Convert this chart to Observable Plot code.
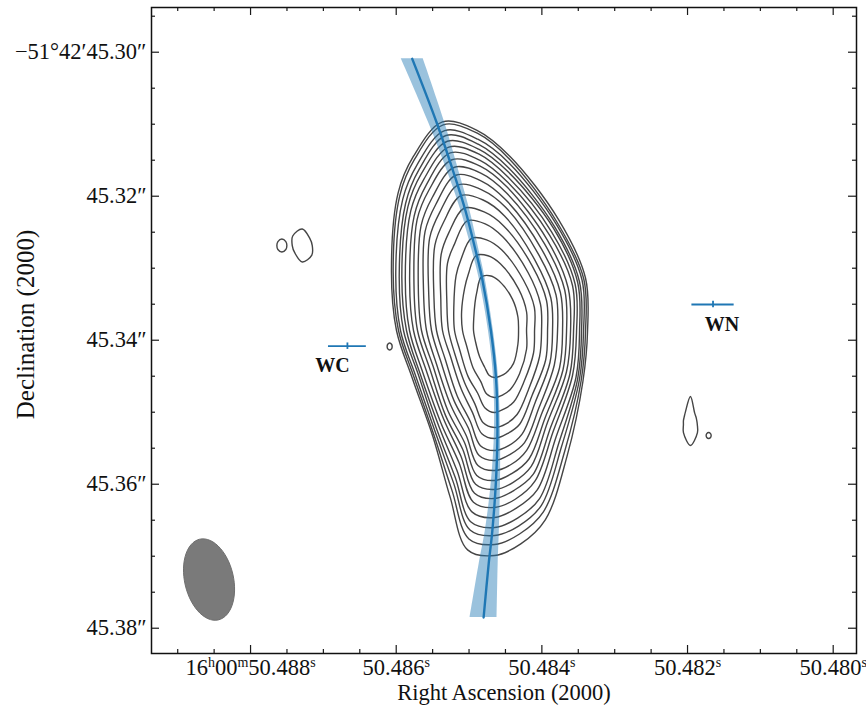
<!DOCTYPE html>
<html><head><meta charset="utf-8">
<script src="https://cdn.jsdelivr.net/npm/d3@7"></script>
<script src="https://cdn.jsdelivr.net/npm/@observablehq/plot@0.6"></script>
<style>
html,body{margin:0;padding:0;background:#fff;}
#chart{width:866px;height:706px;}
</style></head><body><div id="chart"></div>
<script>
// ---------------- data ----------------
// axis ticks (RA in seconds of time, Dec in arcsec)
const xMajorTicks = [50.488, 50.486, 50.484, 50.482, 50.480];
const xMajorLabels = ["16^h00^m50.488^s", "50.486^s", "50.484^s", "50.482^s", "50.480^s"];
const xMinorTicks = [50.4890, 50.4885, 50.4875, 50.4870, 50.4865, 50.4855, 50.4850, 50.4845, 50.4835, 50.4830, 50.4825, 50.4815, 50.4810, 50.4805];
const yMajorTicks = [45.30, 45.32, 45.34, 45.36, 45.38];
const yMajorLabels = ["\u221251\u00b042\u203245.30\u2033", "45.32\u2033", "45.34\u2033", "45.36\u2033", "45.38\u2033"];
const yMinorTicks = [45.295, 45.305, 45.310, 45.315, 45.325, 45.330, 45.335, 45.345, 45.350, 45.355, 45.365, 45.370, 45.375];
const xDomain = [50.48936, 50.47968];
const yDomain = [45.38351, 45.29379];

// map pixel size used for contour radii
const mapPixRA = 1.3736e-5;   // s of RA per map pixel
const mapPixDec = 1.3889e-4;  // arcsec per map pixel

// main source contours: centre, directions, radii (map pixels), innermost -> outermost
const sourceCenterRA = 50.48465;
const sourceCenterDec = 45.33865;
const contourAngles = [0, 30, 60, 75, 83, 90, 97, 105, 120, 150, 180, 210, 235, 245, 256, 265, 275, 300, 330];
const contourRadii = [
  [24, 27, 38, 44, 46, 47, 45, 38, 30, 22, 21, 24, 34, 42, 55, 55, 50, 36, 27],
  [32, 37, 50, 61, 65, 67, 64, 53, 43, 32, 32, 38, 52, 62, 77, 75, 67, 48, 37],
  [40, 45, 59, 74, 79, 82, 78, 65, 53, 40, 40, 47, 67, 79, 95, 91, 81, 58, 46],
  [47, 52, 68, 87, 94, 97, 93, 76, 60, 46, 46, 55, 82, 95, 113, 107, 94, 67, 53],
  [53, 59, 75, 97, 104, 108, 104, 85, 67, 51, 52, 62, 93, 108, 126, 119, 105, 75, 60],
  [58, 64, 82, 107, 116, 120, 116, 94, 75, 57, 58, 70, 104, 120, 139, 131, 115, 81, 65],
  [63, 69, 89, 116, 125, 130, 126, 101, 81, 62, 63, 76, 113, 130, 150, 141, 124, 88, 71],
  [68, 75, 95, 124, 135, 140, 136, 109, 87, 67, 68, 82, 121, 139, 160, 150, 131, 94, 76],
  [72, 79, 101, 133, 144, 150, 146, 116, 93, 71, 73, 88, 128, 147, 168, 158, 138, 100, 81],
  [76, 83, 106, 141, 153, 159, 155, 123, 98, 75, 77, 93, 135, 155, 176, 165, 144, 105, 85],
  [79, 87, 112, 149, 161, 168, 164, 130, 102, 79, 81, 98, 140, 161, 183, 171, 149, 110, 90],
  [82, 90, 117, 156, 170, 177, 173, 137, 107, 83, 85, 103, 146, 167, 189, 177, 154, 114, 93],
  [85, 94, 123, 165, 179, 187, 183, 145, 111, 86, 88, 107, 151, 173, 195, 182, 159, 118, 96],
  [87, 96, 129, 174, 189, 197, 193, 152, 115, 88, 91, 110, 155, 178, 201, 187, 163, 120, 98],
  [89, 98, 134, 181, 197, 205, 201, 158, 118, 91, 94, 114, 160, 183, 206, 192, 168, 123, 101],
  [91, 100, 140, 188, 205, 214, 210, 165, 121, 93, 96, 117, 165, 189, 212, 198, 172, 125, 103],
  [93, 102, 145, 196, 215, 225, 221, 172, 123, 95, 98, 119, 168, 192, 215, 201, 175, 128, 105]
];

// small isolated contours
const blobNames = ["A", "B", "C", "D", "E"];
const blobRA = [50.48757, 50.48729, 50.48609, 50.48196, 50.48171];
const blobDec = [45.32685, 45.32685, 45.34088, 45.35115, 45.35324];
const blobAngles = [
  [0, 45, 90, 135, 180, 225, 270, 315],
  [0, 45, 90, 135, 180, 225, 270, 315],
  [0, 45, 90, 135, 180, 225, 270, 315],
  [0, 30, 60, 90, 120, 150, 180, 210, 240, 270, 300, 330],
  [0, 45, 90, 135, 180, 225, 270, 315]
];
const blobRadii = [
  [5, 5.6, 6.5, 5.6, 5, 5.6, 6.5, 5.6],
  [10, 13.5, 16.5, 10.5, 10, 13.5, 16.5, 10.5],
  [2.5, 2.9, 3.5, 2.9, 2.5, 2.9, 3.5, 2.9],
  [6.3, 7.9, 14, 25, 14, 8.1, 7, 7.2, 10, 24, 8.5, 6.5],
  [2.5, 2.7, 3, 2.7, 2.5, 2.7, 3, 2.7]
];

// synthesized beam
const beamRA = 50.48857, beamDec = 45.37324;
const beamMajor = 41.4, beamMinor = 24.4, beamTilt = 13; // map pixels, degrees

// fitted curve and its uncertainty band
const curveRA = [50.48578, 50.48544, 50.48519, 50.48505, 50.48491, 50.48482, 50.48470, 50.48463, 50.48461, 50.48463, 50.48468, 50.48473, 50.48480];
const curveDec = [45.30092, 45.30990, 45.31740, 45.32199, 45.32754, 45.33143, 45.33865, 45.34518, 45.35254, 45.35949, 45.36643, 45.37101, 45.37851];
const curveHalfWidthMs = [0.151, 0.110, 0.076, 0.062, 0.048, 0.041, 0.034, 0.034, 0.041, 0.062, 0.096, 0.130, 0.185];

// labelled positions
const markerNames = ["WC", "WN"];
const markerRA = [50.48667, 50.48165];
const markerDec = [45.34083, 45.33504];
const markerErrRA = [0.00026, 0.00029];
const markerErrDec = [0.00045, 0.00045];

// ---------------- build ----------------
const W = 866, H = 706, mL = 151, mR = 10, mT = 7, mB = 53;
const rad = Math.PI / 180;
const kx = (W - mL - mR) / (xDomain[0] - xDomain[1]);
const ky = (H - mT - mB) / (yDomain[0] - yDomain[1]);

const contourPts = contourRadii.flatMap((radii, k) => radii.map((r, j) => ({
  level: k,
  ra: sourceCenterRA - r * Math.cos(contourAngles[j] * rad) * mapPixRA,
  dec: sourceCenterDec + r * Math.sin(contourAngles[j] * rad) * mapPixDec
})));

const blobPts = blobNames.flatMap((n, b) => blobRadii[b].map((r, j) => ({
  blob: n,
  ra: blobRA[b] - r * Math.cos(blobAngles[b][j] * rad) * mapPixRA,
  dec: blobDec[b] + r * Math.sin(blobAngles[b][j] * rad) * mapPixDec
})));

const beamPts = d3.range(0, 360, 6).map(t => {
  const ph = beamTilt * rad, tt = t * rad;
  const ux = -Math.sin(ph), uy = -Math.cos(ph);
  const vx = Math.cos(ph), vy = -Math.sin(ph);
  const px = beamMajor * Math.cos(tt) * ux + beamMinor * Math.sin(tt) * vx;
  const py = beamMajor * Math.cos(tt) * uy + beamMinor * Math.sin(tt) * vy;
  return {ra: beamRA - px * mapPixRA, dec: beamDec + py * mapPixDec};
});

const curvePts = curveRA.map((ra, i) => ({ra, dec: curveDec[i], hw: curveHalfWidthMs[i] / 1000}));
const markers = markerNames.map((n, i) => ({name: n, ra: markerRA[i], dec: markerDec[i], er: markerErrRA[i], ed: markerErrDec[i]}));

const tickColor = "#1a1a1a";
function ticks(len, xs, ys) {
  return [
    Plot.ruleX(xs, {x: d => d, y1: yDomain[0], y2: yDomain[0] - len / ky, stroke: tickColor, strokeWidth: 1.2}),
    Plot.ruleX(xs, {x: d => d, y1: yDomain[1], y2: yDomain[1] + len / ky, stroke: tickColor, strokeWidth: 1.2}),
    Plot.ruleY(ys, {y: d => d, x1: xDomain[0], x2: xDomain[0] - len / kx, stroke: tickColor, strokeWidth: 1.2}),
    Plot.ruleY(ys, {y: d => d, x1: xDomain[1], x2: xDomain[1] + len / kx, stroke: tickColor, strokeWidth: 1.2})
  ];
}

const chart = Plot.plot({
  width: W, height: H,
  marginLeft: mL, marginRight: mR, marginTop: mT, marginBottom: mB,
  x: {domain: xDomain, axis: null},
  y: {domain: yDomain, axis: null},
  style: {fontFamily: "'Liberation Serif', 'Times New Roman', 'DejaVu Serif', serif", fontSize: "22.5px", color: "#111", background: "#fff", overflow: "visible"},
  marks: [
    Plot.line(beamPts, {x: "ra", y: "dec", curve: "linear-closed", fill: "#7a7a7a", stroke: "#6e6e6e", strokeWidth: 1}),
    Plot.line(contourPts, {x: "ra", y: "dec", z: "level", curve: "catmull-rom-closed", stroke: "#454545", strokeWidth: 1.4}),
    Plot.line(blobPts, {x: "ra", y: "dec", z: "blob", curve: "catmull-rom-closed", stroke: "#454545", strokeWidth: 1.4}),
    Plot.areaX(curvePts, {y: "dec", x1: d => d.ra - d.hw, x2: d => d.ra + d.hw, curve: "catmull-rom", fill: "#1f77b4", fillOpacity: 0.45}),
    Plot.line(curvePts, {x: "ra", y: "dec", curve: "catmull-rom", stroke: "#1f77b4", strokeWidth: 2.4}),
    Plot.ruleY(markers, {y: "dec", x1: d => d.ra - d.er, x2: d => d.ra + d.er, stroke: "#1f77b4", strokeWidth: 1.8}),
    Plot.ruleX(markers, {x: "ra", y1: d => d.dec - d.ed, y2: d => d.dec + d.ed, stroke: "#1f77b4", strokeWidth: 1.8}),
    Plot.text([markers[0]], {x: "ra", y: "dec", text: "name", dx: -15, dy: 19, fontSize: 20, fontWeight: "bold", fill: "#111"}),
    Plot.text([markers[1]], {x: "ra", y: "dec", text: "name", dx: 9, dy: 20, fontSize: 20, fontWeight: "bold", fill: "#111"}),
    ...ticks(4, xMinorTicks, yMinorTicks),
    ...ticks(8, xMajorTicks, yMajorTicks),
    Plot.frame({stroke: "#111", strokeWidth: 1.5}),
    Plot.text(xMajorTicks, {x: d => d, frameAnchor: "bottom", dy: 21, text: (d, i) => xMajorLabels[i], fill: "#111"}),
    Plot.text(yMajorTicks, {y: d => d, frameAnchor: "left", dx: -5, textAnchor: "end", text: (d, i) => yMajorLabels[i], fill: "#111"}),
    Plot.text(["Right Ascension (2000)"], {frameAnchor: "bottom", dy: 46, textAnchor: "middle", text: d => d, fill: "#111"}),
    Plot.text(["Declination (2000)"], {frameAnchor: "left", dx: -126, dy: -6, rotate: -90, textAnchor: "middle", lineAnchor: "middle", fontSize: 25, text: d => d, fill: "#111"})
  ]
});

// superscripts for h, m, s in the RA tick labels
chart.querySelectorAll("text").forEach(t => {
  const s = t.textContent;
  if (!s.includes("^")) return;
  const parts = s.split(/\^(.)/);
  t.textContent = "";
  let raised = false;
  parts.forEach((p, i) => {
    if (!p) return;
    const ts = document.createElementNS("http://www.w3.org/2000/svg", "tspan");
    ts.textContent = p;
    if (i % 2 === 1) { ts.setAttribute("font-size", "14"); ts.setAttribute("dy", "-8"); raised = true; }
    else if (raised) { ts.setAttribute("dy", "8"); raised = false; }
    t.appendChild(ts);
  });
});

document.getElementById("chart").appendChild(chart);
</script>
</body></html>
